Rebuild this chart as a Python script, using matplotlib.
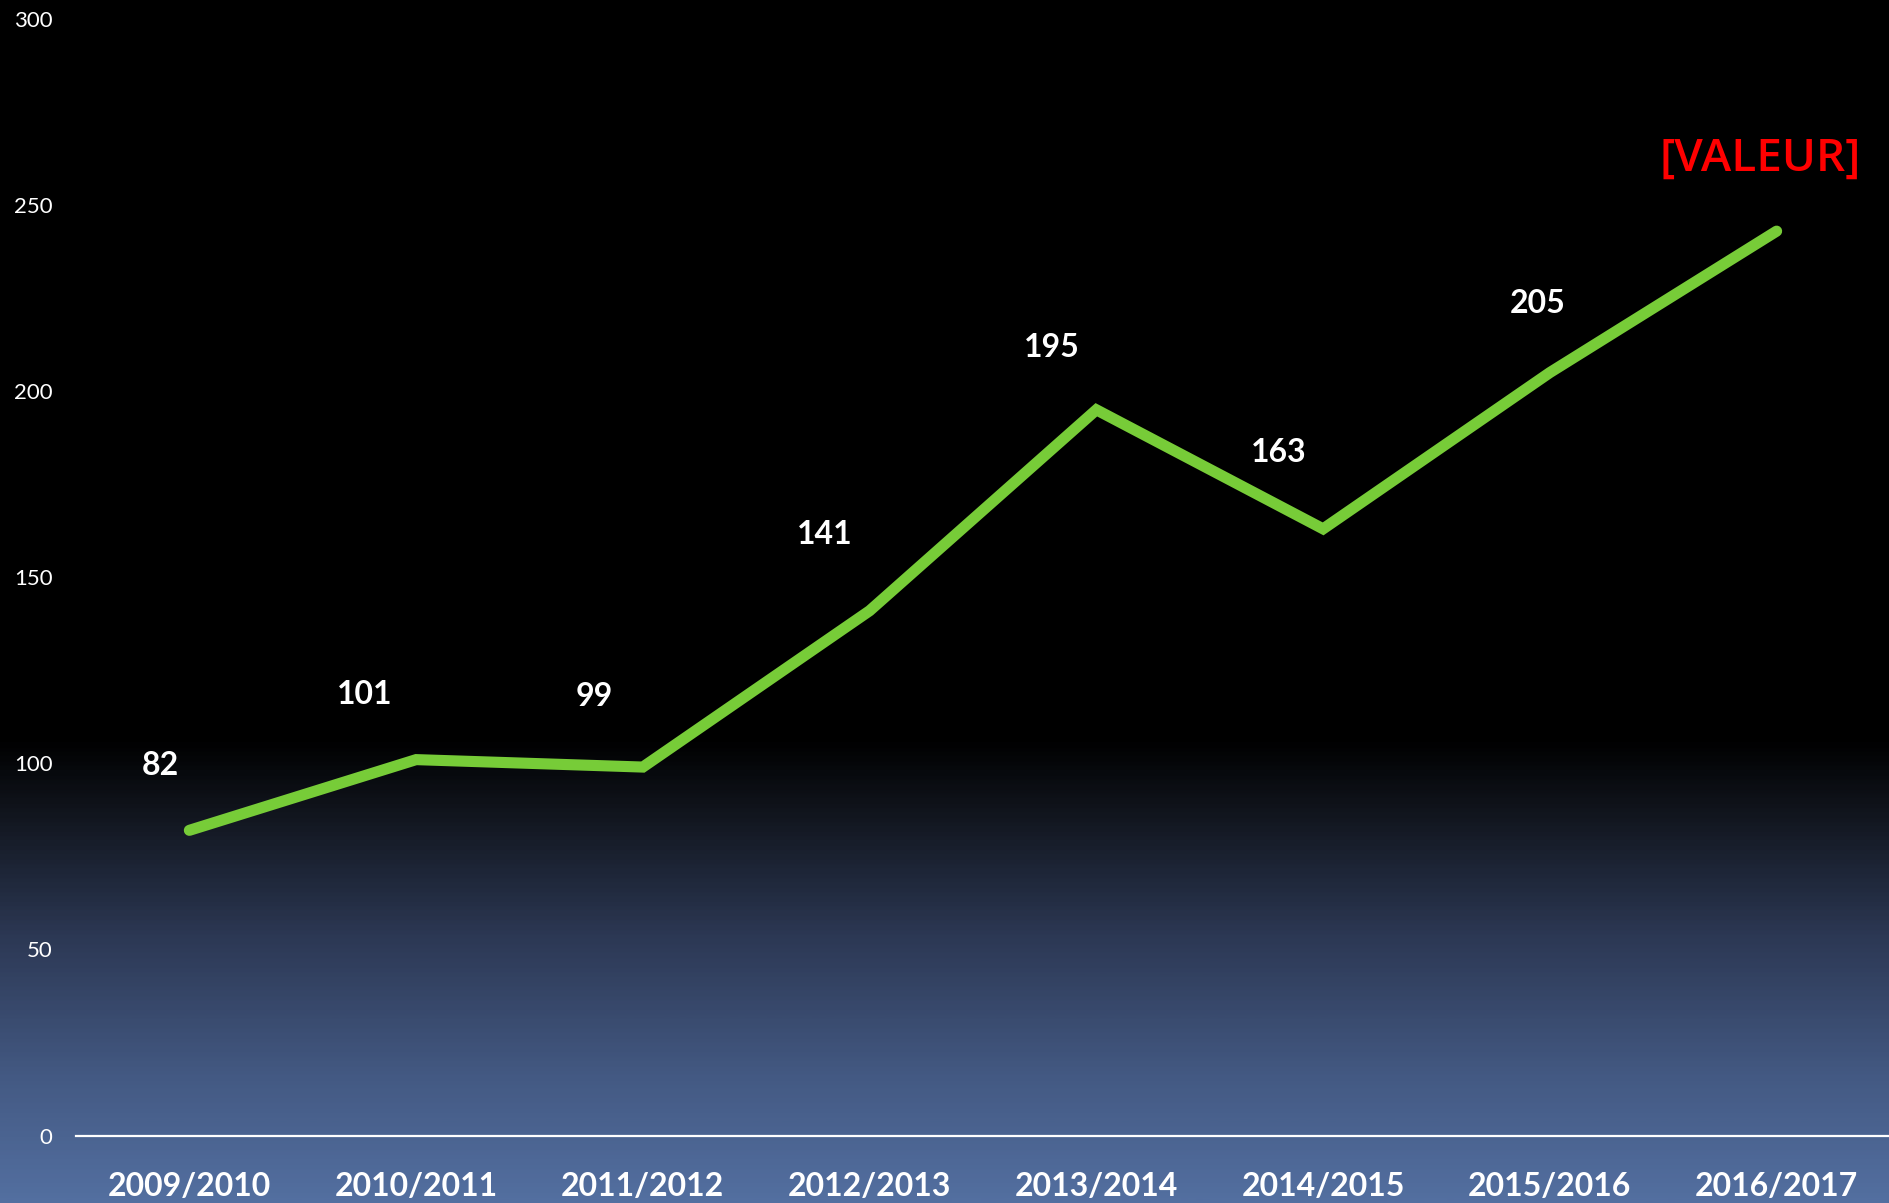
import numpy as np
import matplotlib
matplotlib.use("Agg")
import matplotlib.pyplot as plt
from matplotlib.colors import LinearSegmentedColormap

seasons = ["2009/2010", "2010/2011", "2011/2012", "2012/2013",
           "2013/2014", "2014/2015", "2015/2016", "2016/2017"]
values = [82, 101, 99, 141, 195, 163, 205, 243]
labels = ["82", "101", "99", "141", "195", "163", "205", "[VALEUR]"]
y_ticks = [0, 50, 100, 150, 200, 250, 300]

# label offsets in points (dx, dy) relative to each point
label_offsets = [(-21, 47), (-37, 47), (-35, 51), (-32, 55),
                 (-32, 45), (-32, 55), (-9, 50), (-12, 52)]

plt.rcParams["font.family"] = ["Lato", "DejaVu Sans"]

fig = plt.figure(figsize=(18.9, 12.03), dpi=100)

# background: black on top, fades to slate blue at the bottom
bg = fig.add_axes([0, 0, 1, 1], zorder=0)
bg.set_axis_off()
cmap = LinearSegmentedColormap.from_list(
    "bg", [(0.0, "#536fa0"), (0.10, "#445a84"), (0.22, "#2c3854"),
           (0.32, "#12161f"), (0.385, "#000000"), (1.0, "#000000")])
grad = np.linspace(0, 1, 600).reshape(-1, 1)
bg.imshow(grad, aspect="auto", cmap=cmap, origin="lower", extent=[0, 1, 0, 1])

ax = fig.add_axes([0.0402, 0.0561, 0.9598, 0.9281], zorder=1)
ax.patch.set_alpha(0)

x = np.arange(len(seasons))
ax.plot(x, values, color="#77cc38", linewidth=8,
        solid_capstyle="round", solid_joinstyle="miter")

for i, (v, lab) in enumerate(zip(values, labels)):
    dx, dy = label_offsets[i]
    if lab.startswith("["):
        ax.annotate(lab, (i, v), xytext=(dx, dy), textcoords="offset points",
                    ha="center", va="center", color="#ff0000", fontsize=33,
                    fontweight="semibold", family=["Open Sans", "DejaVu Sans"])
    else:
        ax.annotate(lab, (i, v), xytext=(dx, dy), textcoords="offset points",
                    ha="center", va="center", color="white", fontsize=23,
                    fontweight="bold")

ax.set_xlim(-0.5, len(seasons) - 0.5)
ax.set_ylim(0, 300)
ax.set_xticks(x)
ax.set_xticklabels(seasons, color="white", fontsize=23, fontweight="bold")
ax.set_yticks(y_ticks)
ax.set_yticklabels([str(t) for t in y_ticks], color="white", fontsize=16)
ax.tick_params(axis="x", length=0, pad=26)
ax.tick_params(axis="y", length=0, pad=17)

for side in ["top", "right", "left"]:
    ax.spines[side].set_visible(False)
ax.spines["bottom"].set_color("white")
ax.spines["bottom"].set_linewidth(1.6)

fig.savefig("out.png", dpi=100)
